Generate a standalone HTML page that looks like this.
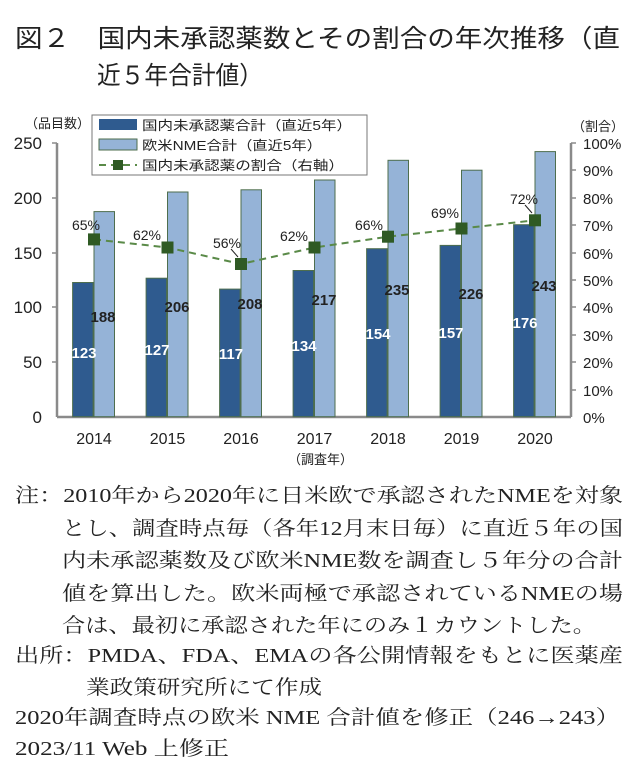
<!DOCTYPE html>
<html><head><meta charset="utf-8"><style>
html,body{margin:0;padding:0;background:#fff;}
svg{display:block;}
.t{font-family:"Liberation Sans","Noto Sans CJK JP",sans-serif;}
.s{font-family:"Liberation Serif","Noto Serif CJK SC",serif;}
</style></head><body>
<svg width="640" height="769" viewBox="0 0 640 769" xmlns="http://www.w3.org/2000/svg">
<g class="t" fill="#222" font-size="25">
<text x="15" y="47" textLength="605" lengthAdjust="spacingAndGlyphs">図２　国内未承認薬数とその割合の年次推移（直</text>
<text x="97" y="84" textLength="166" lengthAdjust="spacingAndGlyphs">近５年合計値）</text>
</g>
<g stroke="#8a8a8a" stroke-width="2.5" fill="none">
<line x1="57" y1="143" x2="57" y2="417"/>
<line x1="571" y1="143" x2="571" y2="417"/>
<line x1="57" y1="417" x2="571" y2="417"/>
</g>
<g stroke="#8a8a8a" stroke-width="1.5">
<line x1="52" y1="143" x2="57" y2="143"/><line x1="52" y1="198" x2="57" y2="198"/><line x1="52" y1="253" x2="57" y2="253"/><line x1="52" y1="307" x2="57" y2="307"/><line x1="52" y1="362" x2="57" y2="362"/>
<line x1="571" y1="143" x2="576" y2="143"/><line x1="571" y1="170" x2="576" y2="170"/><line x1="571" y1="198" x2="576" y2="198"/><line x1="571" y1="225" x2="576" y2="225"/><line x1="571" y1="253" x2="576" y2="253"/><line x1="571" y1="280" x2="576" y2="280"/><line x1="571" y1="307" x2="576" y2="307"/><line x1="571" y1="335" x2="576" y2="335"/><line x1="571" y1="362" x2="576" y2="362"/><line x1="571" y1="390" x2="576" y2="390"/>
</g>
<g class="t" font-size="17" fill="#222" text-anchor="end">
<text x="42" y="149">250</text><text x="42" y="204">200</text><text x="42" y="259">150</text><text x="42" y="313">100</text><text x="42" y="368">50</text><text x="42" y="423">0</text>
</g>
<g class="t" font-size="15" fill="#222">
<text x="583" y="149">100%</text><text x="583" y="176">90%</text><text x="583" y="204">80%</text><text x="583" y="231">70%</text><text x="583" y="259">60%</text><text x="583" y="286">50%</text><text x="583" y="313">40%</text><text x="583" y="341">30%</text><text x="583" y="368">20%</text><text x="583" y="396">10%</text><text x="583" y="423">0%</text>
</g>
<g class="t" font-size="13" fill="#222">
<text x="25" y="128">（品目数）</text>
<text x="572" y="131">（割合）</text>
<text x="288" y="464">（調査年）</text>
</g>
<g stroke="#4e6e4e" stroke-width="1">
<rect x="72.6" y="282.5" width="20.5" height="134.2" fill="#2f5b8f"/><rect x="94" y="211.6" width="20.5" height="205.1" fill="#95b3d7"/>
<rect x="146.1" y="278.2" width="20.5" height="138.5" fill="#2f5b8f"/><rect x="167.5" y="192" width="20.5" height="224.7" fill="#95b3d7"/>
<rect x="219.6" y="289.1" width="20.5" height="127.6" fill="#2f5b8f"/><rect x="241" y="189.8" width="20.5" height="226.9" fill="#95b3d7"/>
<rect x="293.1" y="270.5" width="20.5" height="146.2" fill="#2f5b8f"/><rect x="314.5" y="180" width="20.5" height="236.7" fill="#95b3d7"/>
<rect x="366.6" y="248.7" width="20.5" height="168" fill="#2f5b8f"/><rect x="388" y="160.3" width="20.5" height="256.4" fill="#95b3d7"/>
<rect x="440.1" y="245.4" width="20.5" height="171.3" fill="#2f5b8f"/><rect x="461.5" y="170.2" width="20.5" height="246.5" fill="#95b3d7"/>
<rect x="513.6" y="224.7" width="20.5" height="192" fill="#2f5b8f"/><rect x="535" y="151.6" width="20.5" height="265.1" fill="#95b3d7"/>
</g>
<g class="t" font-size="15" font-weight="bold" fill="#fff" text-anchor="middle">
<text x="84" y="358">123</text><text x="157" y="355">127</text><text x="231" y="359">117</text><text x="304" y="351">134</text><text x="378" y="339">154</text><text x="451" y="338">157</text><text x="525" y="328">176</text>
</g>
<g class="t" font-size="15" font-weight="bold" fill="#222" text-anchor="middle">
<text x="103" y="322">188</text><text x="177" y="312">206</text><text x="250" y="309">208</text><text x="324" y="305">217</text><text x="397" y="295">235</text><text x="471" y="299">226</text><text x="544" y="291">243</text>
</g>
<polyline points="94,239.4 167.5,247.5 241,264 314.5,247.5 388,236.7 461.5,228.5 535,220.3" fill="none" stroke="#5a8a48" stroke-width="2" stroke-dasharray="7,5"/>
<g fill="#2f5a24">
<rect x="88" y="233.4" width="12" height="12"/><rect x="161.5" y="241.5" width="12" height="12"/><rect x="235" y="258" width="12" height="12"/><rect x="308.5" y="241.5" width="12" height="12"/><rect x="382" y="230.7" width="12" height="12"/><rect x="455.5" y="222.5" width="12" height="12"/><rect x="529" y="214.3" width="12" height="12"/>
</g>
<line x1="231" y1="249" x2="238" y2="257" stroke="#222" stroke-width="1"/>
<line x1="525" y1="205" x2="532" y2="213" stroke="#222" stroke-width="1"/>
<g class="t" font-size="14" fill="#222" text-anchor="middle">
<text x="86" y="230">65%</text><text x="147" y="240">62%</text><text x="227" y="248">56%</text><text x="294" y="241">62%</text><text x="369" y="230">66%</text><text x="445" y="218">69%</text><text x="524" y="204">72%</text>
</g>
<g class="t" font-size="16" fill="#222" text-anchor="middle">
<text x="94" y="444">2014</text><text x="167.5" y="444">2015</text><text x="241" y="444">2016</text><text x="314.5" y="444">2017</text><text x="388" y="444">2018</text><text x="461.5" y="444">2019</text><text x="535" y="444">2020</text>
</g>
<rect x="92" y="115" width="275" height="60" fill="#fff" stroke="#777" stroke-width="1"/>
<rect x="99" y="119" width="38" height="11" fill="#2f5b8f"/>
<rect x="99" y="139" width="38" height="11" fill="#95b3d7" stroke="#4e6e4e" stroke-width="1"/>
<line x1="99" y1="165" x2="137" y2="165" stroke="#5a8a48" stroke-width="2" stroke-dasharray="7,5"/>
<rect x="113" y="160" width="10" height="10" fill="#2f5a24"/>
<g class="t" font-size="13" fill="#222">
<text x="142" y="130" textLength="210" lengthAdjust="spacingAndGlyphs">国内未承認薬合計（直近5年）</text>
<text x="142" y="150" textLength="180" lengthAdjust="spacingAndGlyphs">欧米NME合計（直近5年）</text>
<text x="142" y="170" textLength="202" lengthAdjust="spacingAndGlyphs">国内未承認薬の割合（右軸）</text>
</g>
<g class="s" font-size="20" fill="#222">
<text x="15" y="502" textLength="608" lengthAdjust="spacingAndGlyphs">注：2010年から2020年に日米欧で承認されたNMEを対象</text>
<text x="62" y="535" textLength="561" lengthAdjust="spacingAndGlyphs">とし、調査時点毎（各年12月末日毎）に直近５年の国</text>
<text x="62" y="567" textLength="561" lengthAdjust="spacingAndGlyphs">内未承認薬数及び欧米NME数を調査し５年分の合計</text>
<text x="62" y="600" textLength="561" lengthAdjust="spacingAndGlyphs">値を算出した。欧米両極で承認されているNMEの場</text>
<text x="62" y="632" textLength="534" lengthAdjust="spacingAndGlyphs">合は、最初に承認された年にのみ１カウントした。</text>
<text x="15" y="662" textLength="608" lengthAdjust="spacingAndGlyphs">出所：PMDA、FDA、EMAの各公開情報をもとに医薬産</text>
<text x="86" y="694" textLength="236" lengthAdjust="spacingAndGlyphs">業政策研究所にて作成</text>
<text x="15" y="724" textLength="605" lengthAdjust="spacingAndGlyphs">2020年調査時点の欧米 NME 合計値を修正（246→243）</text>
<text x="15" y="755" textLength="214" lengthAdjust="spacingAndGlyphs">2023/11 Web 上修正</text>
</g>
</svg>
</body></html>
